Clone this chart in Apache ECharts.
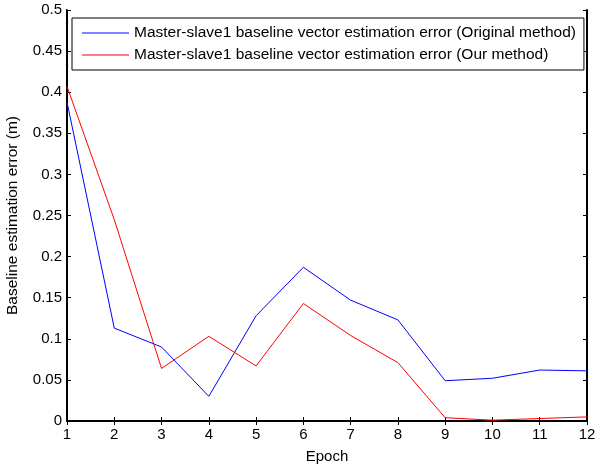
<!DOCTYPE html>
<html style="height: 100%">
    <head>
        <meta charset="utf-8">
    </head>
    <body style="height: 100%; margin: 0; background: #fff">
        <div id="container" style="width: 597px; height: 468px"></div>

        <script type="text/javascript" src="https://cdn.jsdelivr.net/npm/echarts@6/dist/echarts.min.js"></script>
        <script type="text/javascript">
var dom = document.getElementById("container");
var myChart = echarts.init(dom);

// epochs and baseline errors
var epochs = [1, 2, 3, 4, 5, 6, 7, 8, 9, 10, 11, 12];
var originalErr = [0.388, 0.113, 0.090, 0.030, 0.128, 0.187, 0.147, 0.123, 0.049, 0.052, 0.062, 0.061];
var ourErr = [0.407, 0.245, 0.064, 0.103, 0.067, 0.143, 0.104, 0.071, 0.004, 0.001, 0.003, 0.005];
var seriesNames = [
    'Master-slave1 baseline vector estimation error (Original method)',
    'Master-slave1 baseline vector estimation error (Our method)'
];

function pairs(xs, ys) {
    return xs.map(function (x, i) { return [x, ys[i]]; });
}

var font = 'Liberation Sans, Arial, sans-serif';
var tick = { show: true, inside: true, length: 4, lineStyle: { color: '#000', width: 1 } };

var option = {
    backgroundColor: '#fff',
    animation: false,
    textStyle: { fontFamily: font },
    grid: { left: 67, right: 10, top: 10, bottom: 47, containLabel: false, outerBoundsMode: 'none' },
    legend: {
        orient: 'vertical',
        left: 72,
        top: 18,
        icon: 'rect',
        itemWidth: 47,
        itemHeight: 1,
        itemGap: 4,
        padding: [6, 8, 6, 10],
        backgroundColor: '#fff',
        borderColor: '#000',
        borderWidth: 1,
        textStyle: { fontFamily: font, fontSize: 15.5, color: '#000', lineHeight: 18 },
        data: seriesNames
    },
    xAxis: [{
        type: 'value',
        min: 1, max: 12, interval: 1,
        name: 'Epoch',
        nameLocation: 'middle',
        nameGap: 28,
        nameTextStyle: { fontFamily: font, fontSize: 15, color: '#000' },
        axisLine: { lineStyle: { color: '#000', width: 2 } },
        axisTick: tick,
        axisLabel: { color: '#000', fontSize: 15, fontFamily: font, margin: 6 },
        splitLine: { show: false }
    }, {
        type: 'value',
        position: 'top',
        min: 1, max: 12, interval: 1,
        axisLine: { show: true, lineStyle: { color: '#000', width: 1 } },
        axisTick: tick,
        axisLabel: { show: false },
        splitLine: { show: false }
    }],
    yAxis: [{
        type: 'value',
        min: 0, max: 0.5, interval: 0.05,
        name: 'Baseline estimation error (m)',
        nameLocation: 'middle',
        nameGap: 46,
        nameTextStyle: { fontFamily: font, fontSize: 15.5, color: '#000' },
        axisLine: { show: true, lineStyle: { color: '#000', width: 2 } },
        axisTick: tick,
        axisLabel: {
            color: '#000', fontSize: 15, fontFamily: font, margin: 5,
            formatter: function (v) { return String(Math.round(v * 100) / 100); }
        },
        splitLine: { show: false }
    }, {
        type: 'value',
        position: 'right',
        min: 0, max: 0.5, interval: 0.05,
        axisLine: { show: true, lineStyle: { color: '#000', width: 2 } },
        axisTick: tick,
        axisLabel: { show: false },
        splitLine: { show: false }
    }],
    series: [{
        name: seriesNames[0],
        type: 'line',
        data: pairs(epochs, originalErr),
        symbol: 'none',
        color: '#0000ff',
        lineStyle: { color: '#0000ff', width: 1 }
    }, {
        name: seriesNames[1],
        type: 'line',
        data: pairs(epochs, ourErr),
        symbol: 'none',
        color: '#ff0000',
        lineStyle: { color: '#ff0000', width: 1 }
    }]
};

myChart.setOption(option);
        </script>
    </body>
</html>
